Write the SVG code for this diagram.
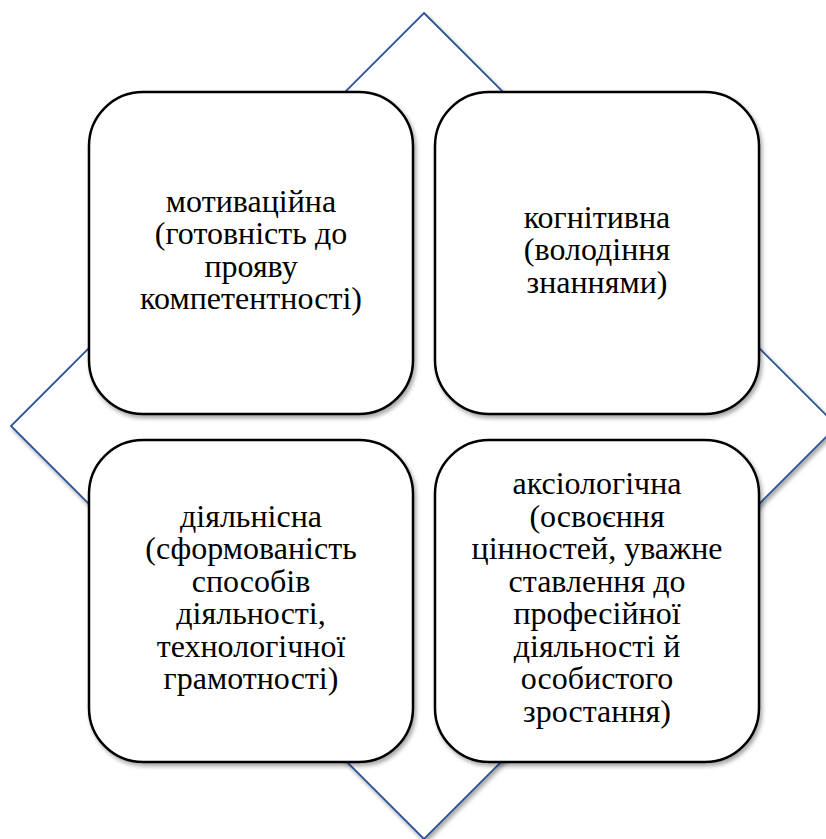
<svg xmlns="http://www.w3.org/2000/svg" width="826" height="839" viewBox="0 0 826 839">
<defs>
<filter id="sh" x="-10%" y="-10%" width="125%" height="125%">
<feGaussianBlur in="SourceAlpha" stdDeviation="2"/>
<feOffset dx="2" dy="3" result="b"/>
<feComponentTransfer><feFuncA type="linear" slope="0.35"/></feComponentTransfer>
<feMerge><feMergeNode/><feMergeNode in="SourceGraphic"/></feMerge>
</filter>
<rect id="boxshape" x="0" y="0" width="324" height="322" rx="54" ry="54"/>
</defs>
<rect width="826" height="839" fill="#fff"/>
<g id="diamond">
<polygon points="424,13 837,426 424,839 11,426" fill="#fff" stroke="#2F5597" stroke-width="1.8" filter="url(#sh)"/>
</g>
<g id="connectors"></g>
<g id="node-motivation">
<use href="#boxshape" x="89" y="92" fill="#fff" stroke="#000" stroke-width="2.5" filter="url(#sh)"/>
<text style="font-family:'Liberation Serif',serif !important;font-size:32px;text-anchor:middle;fill:#000" x="251" y="211.5">мотиваційна</text>
<text style="font-family:'Liberation Serif',serif !important;font-size:32px;text-anchor:middle;fill:#000" x="251" y="244">(готовність до</text>
<text style="font-family:'Liberation Serif',serif !important;font-size:32px;text-anchor:middle;fill:#000" x="251" y="276.5">прояву</text>
<text style="font-family:'Liberation Serif',serif !important;font-size:32px;text-anchor:middle;fill:#000" x="251" y="309">компетентності)</text>
</g>
<g id="node-cognitive">
<use href="#boxshape" x="435" y="92" fill="#fff" stroke="#000" stroke-width="2.5" filter="url(#sh)"/>
<text style="font-family:'Liberation Serif',serif !important;font-size:32px;text-anchor:middle;fill:#000" x="597" y="227.75">когнітивна</text>
<text style="font-family:'Liberation Serif',serif !important;font-size:32px;text-anchor:middle;fill:#000" x="597" y="260.25">(володіння</text>
<text style="font-family:'Liberation Serif',serif !important;font-size:32px;text-anchor:middle;fill:#000" x="597" y="292.75">знаннями)</text>
</g>
<g id="node-activity">
<use href="#boxshape" x="89" y="440" fill="#fff" stroke="#000" stroke-width="2.5" filter="url(#sh)"/>
<text style="font-family:'Liberation Serif',serif !important;font-size:32px;text-anchor:middle;fill:#000" x="251" y="526.5">діяльнісна</text>
<text style="font-family:'Liberation Serif',serif !important;font-size:32px;text-anchor:middle;fill:#000" x="251" y="559">(сформованість</text>
<text style="font-family:'Liberation Serif',serif !important;font-size:32px;text-anchor:middle;fill:#000" x="251" y="591.5">способів</text>
<text style="font-family:'Liberation Serif',serif !important;font-size:32px;text-anchor:middle;fill:#000" x="251" y="624">діяльності,</text>
<text style="font-family:'Liberation Serif',serif !important;font-size:32px;text-anchor:middle;fill:#000" x="251" y="656.5">технологічної</text>
<text style="font-family:'Liberation Serif',serif !important;font-size:32px;text-anchor:middle;fill:#000" x="251" y="689">грамотності)</text>
</g>
<g id="node-axiological">
<use href="#boxshape" x="435" y="440" fill="#fff" stroke="#000" stroke-width="2.5" filter="url(#sh)"/>
<text style="font-family:'Liberation Serif',serif !important;font-size:32px;text-anchor:middle;fill:#000" x="597" y="494">аксіологічна</text>
<text style="font-family:'Liberation Serif',serif !important;font-size:32px;text-anchor:middle;fill:#000" x="597" y="526.5">(освоєння</text>
<text style="font-family:'Liberation Serif',serif !important;font-size:32px;text-anchor:middle;fill:#000" x="597" y="559">цінностей, уважне</text>
<text style="font-family:'Liberation Serif',serif !important;font-size:32px;text-anchor:middle;fill:#000" x="597" y="591.5">ставлення до</text>
<text style="font-family:'Liberation Serif',serif !important;font-size:32px;text-anchor:middle;fill:#000" x="597" y="624">професійної</text>
<text style="font-family:'Liberation Serif',serif !important;font-size:32px;text-anchor:middle;fill:#000" x="597" y="656.5">діяльності й</text>
<text style="font-family:'Liberation Serif',serif !important;font-size:32px;text-anchor:middle;fill:#000" x="597" y="689">особистого</text>
<text style="font-family:'Liberation Serif',serif !important;font-size:32px;text-anchor:middle;fill:#000" x="597" y="721.5">зростання)</text>
</g>
</svg>
